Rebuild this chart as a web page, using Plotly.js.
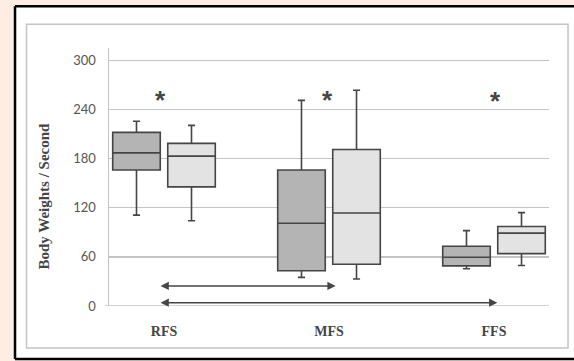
<!DOCTYPE html>
<html>
<head>
<meta charset="utf-8">
<script src="https://cdn.plot.ly/plotly-3.0.1.min.js"></script>
<style>html,body{margin:0;padding:0;background:#fdede3;overflow:hidden;}#chart{width:574px;height:361px;}</style>
</head>
<body>
<div id="chart"></div>
<script>
// ---- data ----
const categories = ['RFS', 'MFS', 'FFS'];
const yTicks = [0, 60, 120, 180, 240, 300];

// dark grey boxes (first of each pair)
const darkLower  = [111, 35, 45.5];
const darkQ1     = [166, 43, 49];
const darkMedian = [187, 101, 59.5];
const darkQ3     = [212, 166, 73];
const darkUpper  = [225.5, 251, 92];

// light grey boxes (second of each pair)
const lightLower  = [104, 33, 49.5];
const lightQ1     = [145.5, 51, 64];
const lightMedian = [183, 113.5, 89];
const lightQ3     = [198.5, 191, 97];
const lightUpper  = [220.5, 263.5, 114];

// significance marks and comparison arrows (category index positions)
const starX = [-0.02, 0.99, 2.01];
const starY = [251, 251, 250];
const arrowFrom = [-0.03, -0.03];
const arrowTo   = [1.04, 2.02];
const arrowY    = [24.5, 4];

const lineCol = '#454545';
const gridCol = '#c4c4c4';

function boxTrace(q1, med, q3, lo, hi, fill) {
  return {
    type: 'box', x: categories, q1: q1, median: med, q3: q3,
    lowerfence: lo, upperfence: hi, boxpoints: false,
    fillcolor: fill, line: {color: lineCol, width: 1.6},
    whiskerwidth: 0.15, hoverinfo: 'skip', showlegend: false
  };
}

const data = [
  boxTrace(darkQ1, darkMedian, darkQ3, darkLower, darkUpper, '#b4b4b4'),
  boxTrace(lightQ1, lightMedian, lightQ3, lightLower, lightUpper, '#e2e3e2')
];

const annotations = [];
starX.forEach((x, i) => annotations.push({
  x: x, y: starY[i], xref: 'x', yref: 'y', text: '<b>*</b>', showarrow: false,
  font: {family: 'Liberation Sans, Arial, sans-serif', size: 26, color: lineCol},
  xanchor: 'center', yanchor: 'middle'
}));
arrowFrom.forEach((x0, i) => annotations.push({
  x: arrowTo[i], y: arrowY[i], ax: x0, ay: arrowY[i], xref: 'x', yref: 'y',
  axref: 'x', ayref: 'y', text: '', showarrow: true, arrowside: 'end+start',
  arrowhead: 2, arrowsize: 1.1, arrowwidth: 1.5, arrowcolor: lineCol,
  standoff: 0, startstandoff: 0
}));
annotations.push({
  xref: 'paper', yref: 'paper', x: -0.1477, y: 0.424, textangle: -90,
  text: '<b>Body Weights / Second</b>', showarrow: false,
  font: {family: 'Liberation Serif, Times New Roman, serif', size: 15, color: lineCol},
  xanchor: 'center', yanchor: 'middle'
});

// frame geometry in paper units
const fx0 = -0.2136, fx1 = 1.1, fy0 = -0.2052, fy1 = 1.1614;

const layout = {
  width: 574, height: 361,
  margin: {l: 109, r: 25, t: 47.7, b: 55},
  paper_bgcolor: '#fdede3', plot_bgcolor: 'rgba(0,0,0,0)',
  boxmode: 'group', boxgap: 0.333, boxgroupgap: 0.136,
  xaxis: {
    type: 'category', categoryarray: categories, range: [-1/3, 7/3],
    showgrid: false, zeroline: false, showline: false,
    ticks: 'outside', ticklen: 12, tickcolor: 'rgba(0,0,0,0)',
    tickfont: {family: 'Liberation Serif, Times New Roman, serif', size: 14, color: lineCol, weight: 'bold'},
    fixedrange: true
  },
  yaxis: {
    range: [0, 315], tickvals: yTicks, ticktext: yTicks.map(String),
    showgrid: true, gridcolor: gridCol, gridwidth: 1.5, zeroline: false,
    showline: true, linecolor: gridCol, linewidth: 1.5,
    ticks: 'outside', ticklen: 9, tickcolor: 'rgba(0,0,0,0)',
    tickfont: {family: 'Lato, sans-serif', size: 13, color: '#555555'},
    fixedrange: true
  },
  shapes: [
    {type: 'rect', xref: 'paper', yref: 'paper', x0: fx0, x1: fx1, y0: fy0, y1: fy1,
     line: {width: 0}, fillcolor: '#ffffff', layer: 'below'},
    {type: 'line', xref: 'paper', yref: 'paper', x0: fx0, x1: fx1, y0: fy1, y1: fy1,
     line: {color: '#000000', width: 2.5}, layer: 'below'},
    {type: 'line', xref: 'paper', yref: 'paper', x0: fx0, x1: fx1, y0: fy0, y1: fy0,
     line: {color: '#000000', width: 2.5}, layer: 'below'},
    {type: 'line', xref: 'paper', yref: 'paper', x0: fx0, x1: fx0, y0: fy0, y1: fy1,
     line: {color: '#000000', width: 2.5}, layer: 'below'},
    {type: 'rect', xref: 'paper', yref: 'paper', x0: -0.1875, x1: 1.0432, y0: -0.1626, y1: 1.0918,
     line: {color: '#c4c4c4', width: 1.5}, fillcolor: 'rgba(0,0,0,0)', layer: 'below'},
    {type: 'line', xref: 'paper', yref: 'y', x0: -0.009, x1: 1, y0: 0, y1: 0,
     line: {color: gridCol, width: 1.5}, layer: 'below'}
  ],
  annotations: annotations,
  showlegend: false
};

Plotly.newPlot('chart', data, layout, {displayModeBar: false, staticPlot: true});
</script>
</body>
</html>
